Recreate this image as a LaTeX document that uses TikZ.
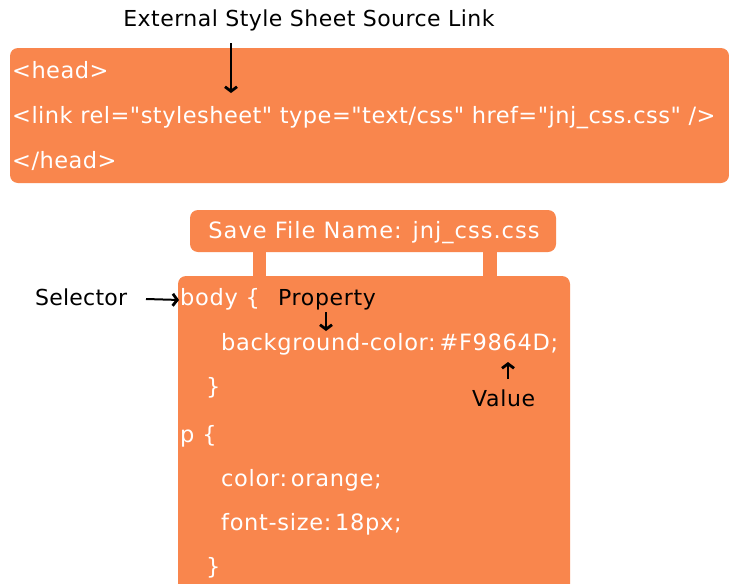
\documentclass[tikz,border=0pt]{standalone}
\usepackage{fontspec}
\setmainfont{DejaVu Sans}[Ligatures=TeXOff]
\newfontfamily\spaced{DejaVu Sans}[Ligatures=TeXOff,LetterSpace=3]
\newfontfamily\tight{DejaVu Sans}[Ligatures=TeXOff,LetterSpace=2.1]
\newfontfamily\wide{DejaVu Sans}[Ligatures=TeXOff,LetterSpace=4.5]
\newfontfamily\plain{DejaVu Sans}[Ligatures=TeXOff,LetterSpace=1]
\usetikzlibrary{arrows.meta}
\definecolor{cssorange}{HTML}{F9864D}
\begin{document}
\begin{tikzpicture}[x=1pt,y=-1pt,
  panel/.style={fill=cssorange,draw=none,rounded corners=8pt},
  code/.style={anchor=west,inner sep=0pt,text=white,font=\spaced\fontsize{22.5}{26}\selectfont,
    text height=16pt,text depth=5pt},
  note/.style={anchor=west,inner sep=0pt,text=black,font=\spaced\fontsize{22}{26}\selectfont,
    text height=16pt,text depth=5pt},
  pointer/.style={line width=2pt,-{Straight Barb[length=4.5pt,width=12pt,line width=2.8pt,sep=1pt]}}]
\useasboundingbox (0,0) rectangle (729,584);
\fill[white] (0,0) rectangle (729,584);

% HTML head block
\fill[panel] (10,48) rectangle (729,183);
\node[code,font=\tight\fontsize{22.5}{26}\selectfont] (head) at (12,73) {<head>};
\node[code,font=\tight\fontsize{22.5}{26}\selectfont] (link) at (12,118) {<link rel="stylesheet" type="text/css" href="jnj\_css.css" />};
\node[code,font=\tight\fontsize{22.5}{26}\selectfont] (endhead) at (12,163) {</head>};
\node[note,anchor=center,font=\tight\fontsize{22}{26}\selectfont] (ext) at (309,21) {External Style Sheet Source Link};
\coordinate (extend) at (231,94);
\draw[pointer] (231,43) -- (extend);

% file name tab and its two joins
\fill[panel] (190,210) rectangle (556,252);
\node[code,anchor=center,font=\wide\fontsize{22.5}{26}\selectfont] (fname) at (374,233) {Save File Name: jnj\_css.css};
\fill[cssorange] (253,245) rectangle (266,285);
\fill[cssorange] (483,245) rectangle (497,285);

% CSS rules block
\fill[panel] (178,276) rectangle (570,610);
\node[code] (body) at (180,300) {body \{};
\node[code] (bg) at (221,345) {background-color:\,\#F9864D;};
\node[code] (close1) at (206,389) {\}};
\node[code] (p) at (180,437) {p \{};
\node[code] (col) at (221,481) {color:\,orange;};
\node[code] (fs) at (221,525) {font-size:\,18px;};
\node[code] (close2) at (206,569) {\}};

% annotations
\node[note,font=\plain\fontsize{22}{26}\selectfont] (sel) at (35,300) {Selector};
\draw[pointer] (146,299) -- (body.west);
\node[note] (prop) at (278,300) {Property};
\draw[pointer] (326,312) -- (326,332);
\node[note] (val) at (472,401) {Value};
\draw[pointer] (508,379) -- (508,361);
\end{tikzpicture}
\end{document}
